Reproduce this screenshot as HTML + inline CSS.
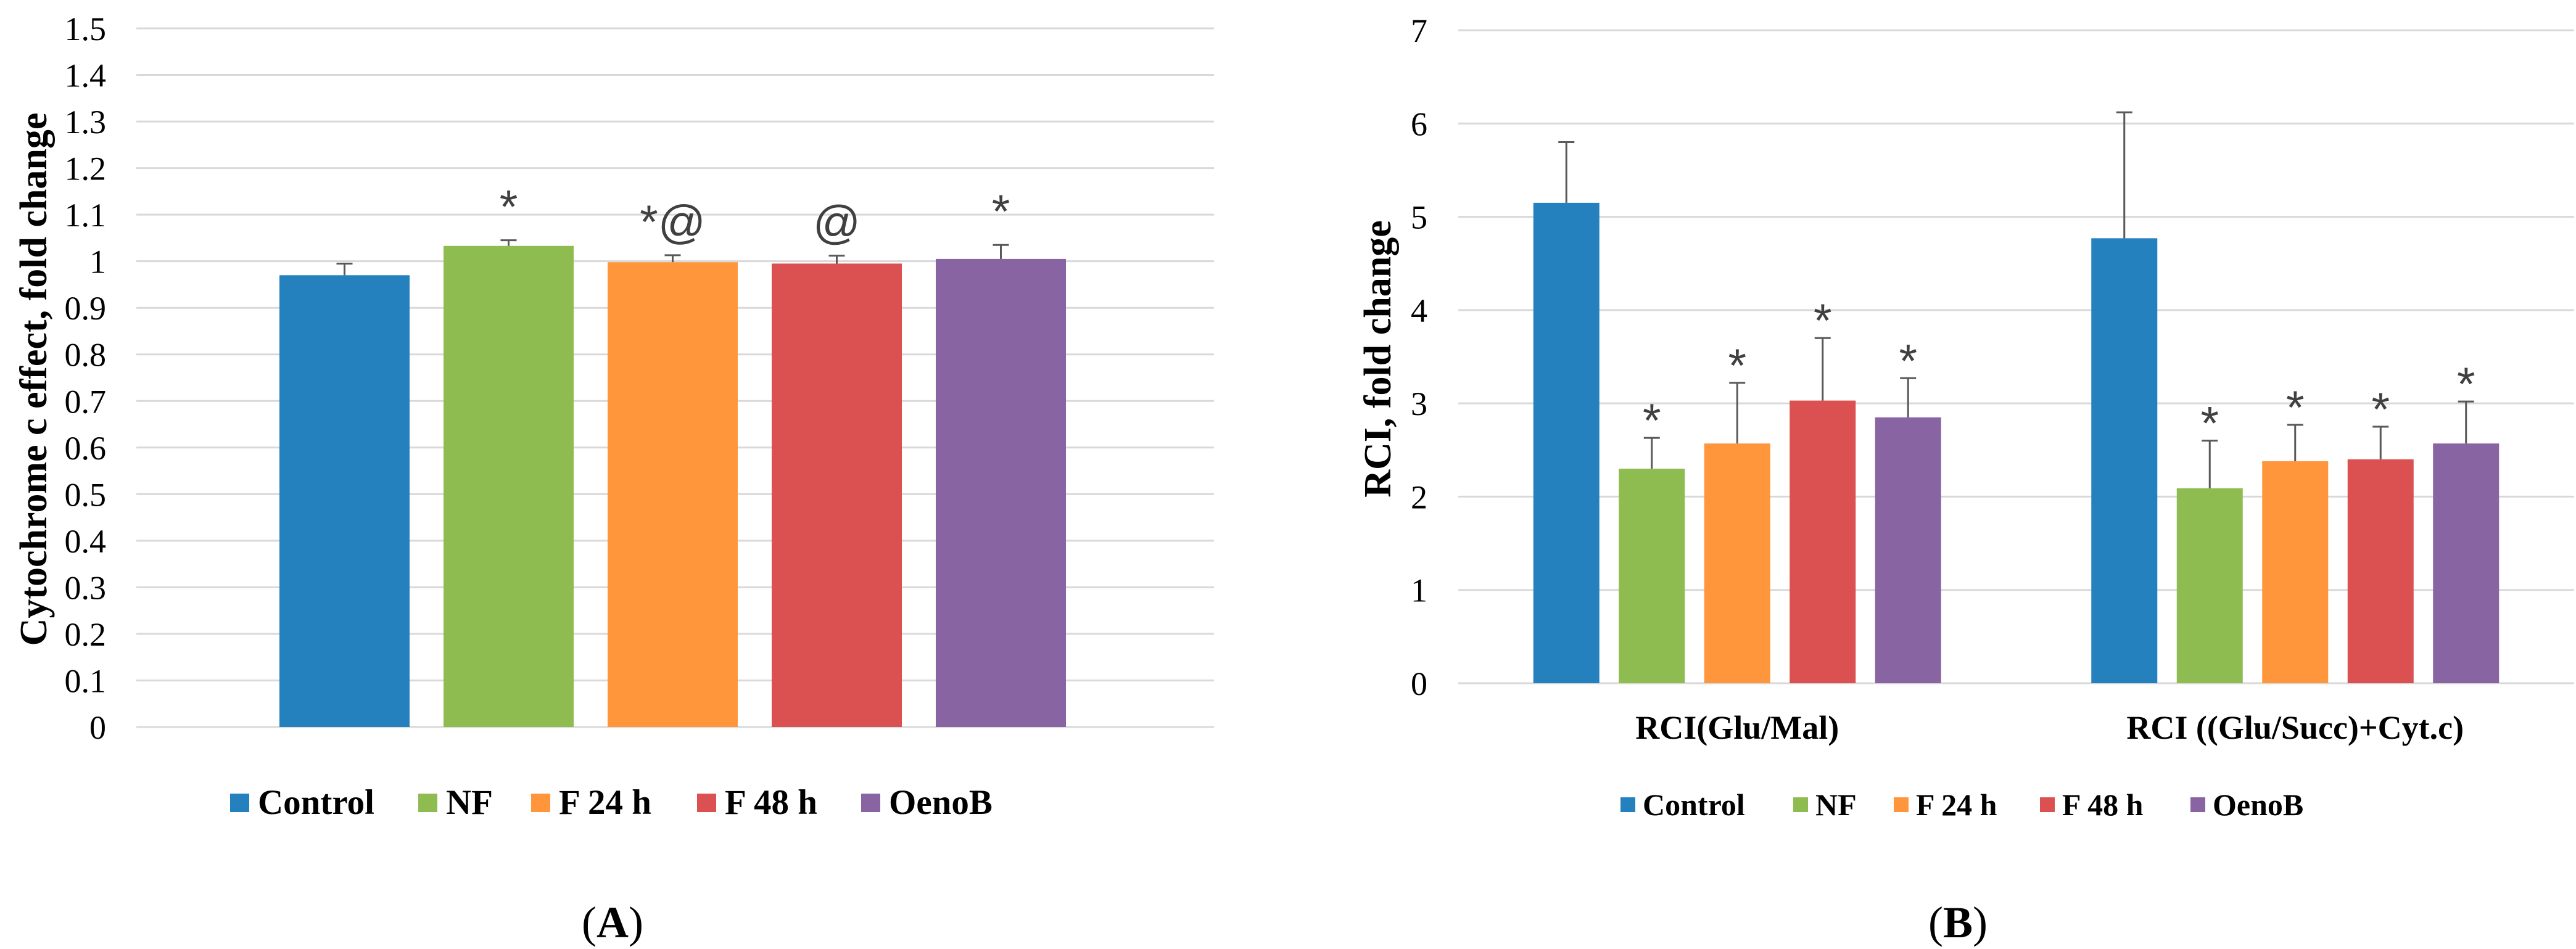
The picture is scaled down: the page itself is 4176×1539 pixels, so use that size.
<!DOCTYPE html>
<html><head><meta charset="utf-8">
<style>
html,body{margin:0;padding:0;background:#fff;}
svg{display:block;}
text{font-family:"Liberation Serif",serif;}
</style></head>
<body>
<svg id="fig" width="4176" height="1539" viewBox="0 0 4176 1539" xmlns="http://www.w3.org/2000/svg">
<rect x="0" y="0" width="4176" height="1539" fill="#fff"/>
<g id="panelA"></g>
<g id="panelB"></g>
<text x="993" y="1520" font-size="72" text-anchor="middle">(<tspan font-weight="bold">A</tspan>)</text>
<text x="3174" y="1520" font-size="72" text-anchor="middle">(<tspan font-weight="bold">B</tspan>)</text>
</svg>
<script>
// ---- Panel A data ----
const seriesNames = ["Control","NF","F 24 h","F 48 h","OenoB"];
const seriesColors = ["#2580BE","#8FBC50","#FF963C","#DB5050","#8964A2"];
const aValues = [0.97, 1.033, 0.998, 0.995, 1.005];
const aErrors = [0.025, 0.012, 0.015, 0.017, 0.03];
const aMarks = ["", "*", "*@", "@", "*"];
const aTicks = ["0","0.1","0.2","0.3","0.4","0.5","0.6","0.7","0.8","0.9","1","1.1","1.2","1.3","1.4","1.5"];
// ---- Panel B data ----
const bCategories = ["RCI(Glu/Mal)", "RCI ((Glu/Succ)+Cyt.c)"];
const bValuesG1 = [5.15, 2.3, 2.57, 3.03, 2.85];
const bErrorsG1 = [0.65, 0.33, 0.65, 0.67, 0.42];
const bValuesG2 = [4.77, 2.09, 2.38, 2.4, 2.57];
const bErrorsG2 = [1.35, 0.51, 0.39, 0.35, 0.45];
const bMarksG1 = ["", "*", "*", "*", "*"];
const bMarksG2 = ["", "*", "*", "*", "*"];
const bTicks = ["0","1","2","3","4","5","6","7"];

const NS = "http://www.w3.org/2000/svg";
function mk(parent, tag, attrs, txt){
  const e = document.createElementNS(NS, tag);
  for (const k in attrs) e.setAttribute(k, attrs[k]);
  if (txt !== undefined) e.textContent = txt;
  parent.appendChild(e);
  return e;
}

// ===== Panel A =====
(function(){
  const g = document.getElementById("panelA");
  const x0 = 221, x1 = 1968, yTop = 46, yBot = 1179, vMax = 1.5;
  const y = v => yBot - (v / vMax) * (yBot - yTop);
  aTicks.forEach(t => {
    const v = parseFloat(t);
    const l = mk(g, "line", {x1:x0, x2:x1, y1:y(v), y2:y(v), stroke:"#d9d9d9", "stroke-width":3});
    
    
    const tx = mk(g, "text", {x:172, y:y(v)+19, "font-size":54, "text-anchor":"end", fill:"#000"}, t);
    
    
  });
  const n = aValues.length, bw = 211, step = 266;
  const cx = (x0 + x1) / 2 - 4;
  aValues.forEach((v, i) => {
    const bx = cx - (n * step - (step - bw)) / 2 + i * step;
    const r = mk(g, "rect", {x:bx, y:y(v), width:bw, height:yBot - y(v), fill:seriesColors[i]});
    
    
    const mx = bx + bw / 2, top = y(v + aErrors[i]);
    const eb = mk(g, "path", {d:`M${mx},${y(v)}V${top}M${mx-13},${top}H${mx+13}`, stroke:"#595959", "stroke-width":3, fill:"none"});
    
    
    if (aMarks[i]) {
      const m = mk(g, "text", {x:mx, y:top - 28, "text-anchor":"middle", fill:"#404040", style:"font-family:'Liberation Sans',sans-serif;font-size:76px"}, aMarks[i]);
      
      
    }
  });
  const yt = mk(g, "text", {x:0, y:0, "font-size":62, "font-weight":"bold", "text-anchor":"middle", transform:"translate(75,615) rotate(-90)"}, "Cytochrome c effect, fold change");
  
  
  const legX = [373, 678, 861, 1130, 1396];
  seriesNames.forEach((s, i) => {
    const lg = mk(g, "g", {});
    
    
    mk(lg, "rect", {x:legX[i], y:1287, width:31, height:30, fill:seriesColors[i]});
    mk(lg, "text", {x:legX[i] + 45, y:1320, "font-size":57, "font-weight":"bold"}, s);
  });
})();

// ===== Panel B =====
(function(){
  const g = document.getElementById("panelB");
  const x0 = 2364, x1 = 4173, yTop = 49, yBot = 1108, vMax = 7;
  const y = v => yBot - (v / vMax) * (yBot - yTop);
  bTicks.forEach(t => {
    const v = parseFloat(t);
    const l = mk(g, "line", {x1:x0, x2:x1, y1:y(v), y2:y(v), stroke:"#d9d9d9", "stroke-width":3});
    
    
    const tx = mk(g, "text", {x:2314, y:y(v)+19, "font-size":54, "text-anchor":"end"}, t);
    
    
  });
  const groups = [[bValuesG1, bErrorsG1, bMarksG1], [bValuesG2, bErrorsG2, bMarksG2]];
  const catW = (x1 - x0) / bCategories.length, bw = 107, step = 138.5;
  groups.forEach((grp, gi) => {
    const [vals, errs, marks] = grp;
    const cx = x0 + catW * (gi + 0.5);
    const n = vals.length;
    vals.forEach((v, i) => {
      const bx = cx - (n * step - (step - bw)) / 2 + i * step;
      const r = mk(g, "rect", {x:bx, y:y(v), width:bw, height:yBot - y(v), fill:seriesColors[i]});
      
      
      const mx = bx + bw / 2, top = y(v + errs[i]);
      const eb = mk(g, "path", {d:`M${mx},${y(v)}V${top}M${mx-13},${top}H${mx+13}`, stroke:"#595959", "stroke-width":3, fill:"none"});
      
      
      if (marks[i]) {
        const m = mk(g, "text", {x:mx, y:top - 2, "text-anchor":"middle", fill:"#404040", style:"font-family:'Liberation Sans',sans-serif;font-size:76px"}, marks[i]);
        
        
      }
    });
    const cl = mk(g, "text", {x:cx, y:1198, "font-size":54, "font-weight":"bold", "text-anchor":"middle"}, bCategories[gi]);
    
    
  });
  const yt = mk(g, "text", {x:0, y:0, "font-size":62, "font-weight":"bold", "text-anchor":"middle", transform:"translate(2254,582) rotate(-90)"}, "RCI, fold change");
  
  
  const legX = [2627, 2907, 3070, 3307, 3551];
  seriesNames.forEach((s, i) => {
    const lg = mk(g, "g", {});
    
    
    mk(lg, "rect", {x:legX[i], y:1293, width:24, height:24, fill:seriesColors[i]});
    mk(lg, "text", {x:legX[i] + 36, y:1322, "font-size":50, "font-weight":"bold"}, s);
  });
})();
</script>
</body></html>
